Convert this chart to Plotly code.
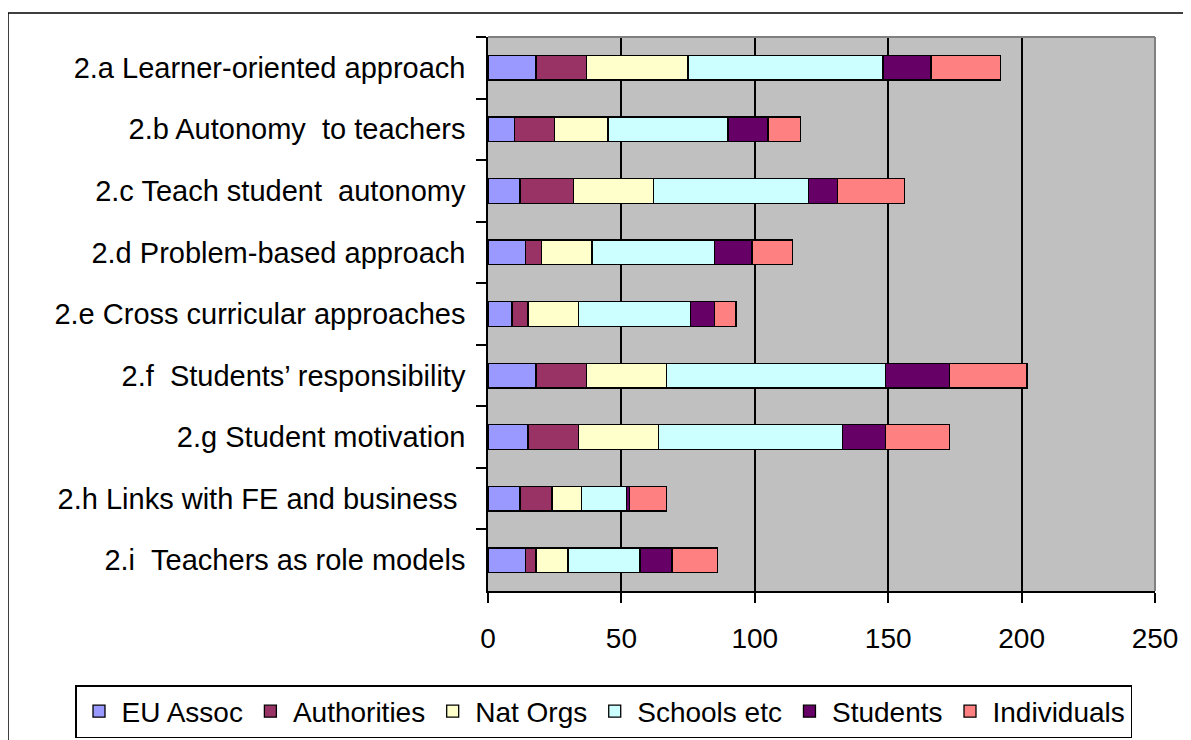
import plotly.graph_objects as go

# categories (top to bottom)
tag = [
    "2.a Learner-oriented approach",
    "2.b Autonomy\u00a0\u00a0to teachers",
    "2.c Teach student\u00a0\u00a0autonomy",
    "2.d Problem-based approach",
    "2.e Cross curricular approaches",
    "2.f\u00a0\u00a0Students’ responsibility",
    "2.g Student motivation",
    "2.h Links with FE and business\u00a0",
    "2.i\u00a0\u00a0Teachers as role models",
]

eu_assoc = [18, 10, 12, 14, 9, 18, 15, 12, 14]
authorities = [19, 15, 20, 6, 6, 19, 19, 12, 4]
nat_orgs = [38, 20, 30, 19, 19, 30, 30, 11, 12]
schools = [73, 45, 58, 46, 42, 82, 69, 17, 27]
students = [18, 15, 11, 14, 9, 24, 16, 1, 12]
individuals = [26, 12, 25, 15, 8, 29, 24, 14, 17]

series = [
    ("EU Assoc", eu_assoc, "#9999FF"),
    ("Authorities", authorities, "#993366"),
    ("Nat Orgs", nat_orgs, "#FFFFCC"),
    ("Schools etc", schools, "#CCFFFF"),
    ("Students", students, "#660066"),
    ("Individuals", individuals, "#FF8080"),
]

# the page body has an 8px margin, so work in screen pixels and shift back
OFF = 8
W, H = 1191 - OFF, 740 - OFF
# plot area in screen pixels
L, R, T, B = 488 - OFF, 1155 - OFF, 37 - OFF, 591 - OFF
pw, ph = R - L, B - T

def px(x):
    return (x - OFF - L) / pw

def py(y):
    return (B - (y - OFF)) / ph

fnt = "Liberation Sans, Arial, sans-serif"

fig = go.Figure()
for name, vals, c in series:
    fig.add_trace(go.Bar(
        y=tag, x=vals, name=name, orientation="h", width=0.4,
        marker=dict(color=c, line=dict(color="black", width=1.3)),
    ))

fig.update_layout(
    width=W, height=H,
    barmode="stack",
    paper_bgcolor="white",
    plot_bgcolor="#C0C0C0",
    margin=dict(l=L, r=W - R, t=T, b=H - B, pad=0, autoexpand=False),
    font=dict(family=fnt, size=28, color="black"),
    showlegend=True,
    legend=dict(
        orientation="h", x=px(75), xanchor="left", y=py(685), yanchor="top",
        bordercolor="black", borderwidth=1.5, bgcolor="white",
        font=dict(size=28), traceorder="normal", itemwidth=35,
    ),
)

fig.update_xaxes(
    range=[0, 250], tickvals=[0, 50, 100, 150, 200, 250],
    showgrid=True, gridcolor="black", gridwidth=1.5,
    showline=True, linecolor="black", linewidth=1.5,
    ticks="outside", ticklen=10, tickcolor="black", tickwidth=1.5,
    ticklabelstandoff=12, zeroline=False, fixedrange=True,
    tickfont=dict(size=28),
)
fig.update_yaxes(
    type="category", autorange="reversed", tickson="boundaries",
    showgrid=False, showline=True, linecolor="black", linewidth=1.5,
    ticks="outside", ticklen=10, tickcolor="black", tickwidth=1.5,
    ticklabelstandoff=15, fixedrange=True,
    tickfont=dict(size=29),
)

# grey plot-area border on top / right, black outer chart frame
fig.add_shape(type="line", xref="paper", yref="paper", x0=0, x1=1, y0=1, y1=1,
              line=dict(color="#808080", width=2))
fig.add_shape(type="line", xref="paper", yref="paper", x0=1, x1=1, y0=0, y1=1,
              line=dict(color="#808080", width=2))
fig.add_shape(type="rect", xref="paper", yref="paper",
              x0=px(8), x1=px(1210), y0=py(760), y1=py(13),
              line=dict(color="black", width=1.5))

fig.write_html("out.html")
